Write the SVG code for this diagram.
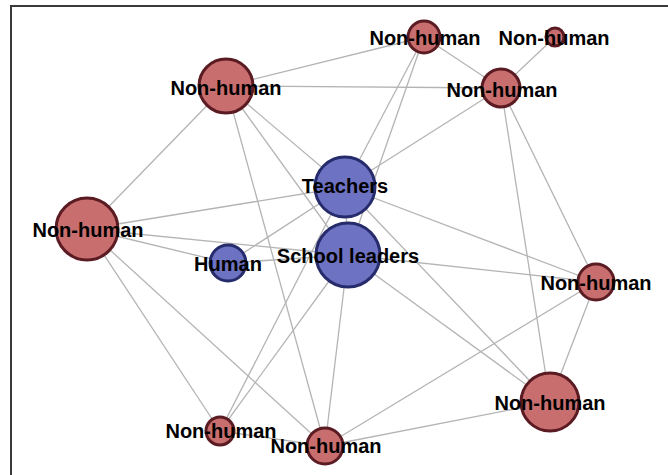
<svg xmlns="http://www.w3.org/2000/svg" width="668" height="475" viewBox="0 0 668 475">
<style>
.frame{fill:none;stroke:#3a3a3a;stroke-width:2}
.e{stroke:#b4b4b4;stroke-width:1.3;fill:none}
.nh{fill:#c86e6e;stroke:#5a1b22;stroke-width:3}
.hu{fill:#6e72c2;stroke:#262b6b;stroke-width:3}
.lbl{font-family:"Liberation Sans",Arial,sans-serif;font-weight:bold;font-size:20px;fill:#000;text-anchor:middle}
</style>
<rect width="668" height="475" fill="#ffffff"/>
<rect class="frame" x="11" y="6" width="700" height="520"/>
<g id="connectors">
<line class="e" x1="226" y1="86" x2="424" y2="37"/>
<line class="e" x1="226" y1="86" x2="501" y2="88"/>
<line class="e" x1="226" y1="86" x2="87" y2="229"/>
<line class="e" x1="226" y1="86" x2="345" y2="187"/>
<line class="e" x1="226" y1="86" x2="348" y2="255"/>
<line class="e" x1="226" y1="86" x2="325" y2="446"/>
<line class="e" x1="424" y1="37" x2="501" y2="88"/>
<line class="e" x1="424" y1="37" x2="345" y2="187"/>
<line class="e" x1="424" y1="37" x2="348" y2="255"/>
<line class="e" x1="501" y1="88" x2="555" y2="37"/>
<line class="e" x1="501" y1="88" x2="345" y2="187"/>
<line class="e" x1="501" y1="88" x2="550" y2="402"/>
<line class="e" x1="501" y1="88" x2="596" y2="282"/>
<line class="e" x1="345" y1="187" x2="87" y2="229"/>
<line class="e" x1="345" y1="187" x2="228" y2="263"/>
<line class="e" x1="345" y1="187" x2="596" y2="282"/>
<line class="e" x1="345" y1="187" x2="550" y2="402"/>
<line class="e" x1="345" y1="187" x2="220" y2="431"/>
<line class="e" x1="345" y1="187" x2="348" y2="255"/>
<line class="e" x1="348" y1="255" x2="87" y2="229"/>
<line class="e" x1="348" y1="255" x2="228" y2="263"/>
<line class="e" x1="348" y1="255" x2="596" y2="282"/>
<line class="e" x1="348" y1="255" x2="550" y2="402"/>
<line class="e" x1="348" y1="255" x2="325" y2="446"/>
<line class="e" x1="348" y1="255" x2="220" y2="431"/>
<line class="e" x1="87" y1="229" x2="228" y2="263"/>
<line class="e" x1="87" y1="229" x2="220" y2="431"/>
<line class="e" x1="87" y1="229" x2="325" y2="446"/>
<line class="e" x1="325" y1="446" x2="596" y2="282"/>
<line class="e" x1="325" y1="446" x2="550" y2="402"/>
<line class="e" x1="220" y1="431" x2="325" y2="446"/>
<line class="e" x1="596" y1="282" x2="550" y2="402"/>
</g>
<g id="node-nh-topleft"><circle class="nh" cx="226" cy="86" r="27"/></g>
<g id="node-nh-top"><circle class="nh" cx="424" cy="37" r="16"/></g>
<g id="node-nh-topright"><circle class="nh" cx="555" cy="37" r="9"/></g>
<g id="node-nh-upperright"><circle class="nh" cx="501" cy="88" r="19"/></g>
<g id="node-nh-left"><circle class="nh" cx="87" cy="229" r="31"/></g>
<g id="node-nh-right"><circle class="nh" cx="596" cy="282" r="18"/></g>
<g id="node-nh-bottomright"><circle class="nh" cx="550" cy="402" r="29"/></g>
<g id="node-nh-bottomleft"><circle class="nh" cx="220" cy="431" r="14"/></g>
<g id="node-nh-bottom"><circle class="nh" cx="325" cy="446" r="18"/></g>
<g id="node-human"><circle class="hu" cx="228" cy="263" r="18"/></g>
<g id="node-teachers"><circle class="hu" cx="345" cy="187" r="30"/></g>
<g id="node-school-leaders"><circle class="hu" cx="348" cy="255" r="32"/></g>
<g id="labels">
<text class="lbl" x="226" y="95">Non-human</text>
<text class="lbl" x="425" y="45">Non-human</text>
<text class="lbl" x="554" y="45">Non-human</text>
<text class="lbl" x="502" y="97">Non-human</text>
<text class="lbl" x="345" y="193">Teachers</text>
<text class="lbl" x="88" y="237">Non-human</text>
<text class="lbl" x="228" y="271">Human</text>
<text class="lbl" x="348" y="263">School leaders</text>
<text class="lbl" x="596" y="290">Non-human</text>
<text class="lbl" x="550" y="410">Non-human</text>
<text class="lbl" x="221" y="438">Non-human</text>
<text class="lbl" x="326" y="453">Non-human</text>
</g>
</svg>
